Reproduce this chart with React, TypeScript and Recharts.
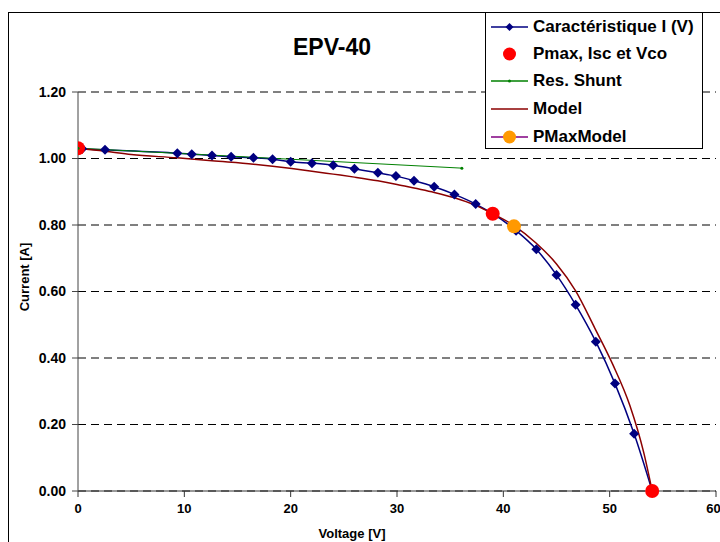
import React from "react";
import { ComposedChart, Line, XAxis, YAxis, CartesianGrid, Legend } from "recharts";

const FONT = '"Liberation Sans", Arial, sans-serif';

// measured I(V) curve
const measuredV = [0.4, 2.54, 9.34, 10.7, 12.6, 14.4, 16.5, 18.3, 20.0, 22.0, 24.0, 26.0, 28.2, 29.9, 31.6, 33.5, 35.4, 37.4, 39.0, 41.2, 43.1, 45.0, 46.8, 48.7, 50.5, 52.3, 54.0];
const measuredI = [1.029, 1.026, 1.016, 1.013, 1.009, 1.005, 1.002, 0.998, 0.99, 0.986, 0.98, 0.969, 0.957, 0.947, 0.933, 0.915, 0.892, 0.863, 0.834, 0.783, 0.727, 0.65, 0.56, 0.449, 0.323, 0.172, 0.0];

// model curve
const modelV = [0, 2.5, 5, 9.3, 12.6, 16.5, 18.3, 20.1, 22.0, 24.0, 26.0, 28.2, 30.0, 31.6, 33.5, 35.4, 37.4, 39.0, 41.0, 43.1, 45.0, 46.8, 48.6, 50.3, 51.9, 53.2, 54.0];
const modelI = [1.03, 1.022, 1.012, 1.002, 0.993, 0.983, 0.977, 0.97, 0.962, 0.953, 0.944, 0.933, 0.922, 0.911, 0.898, 0.882, 0.859, 0.834, 0.798, 0.745, 0.683, 0.602, 0.49, 0.38, 0.257, 0.116, 0.0];

const shuntV = [0, 36.1];
const shuntI = [1.031, 0.971];

const pmaxV = [0, 39.0, 54.0];
const pmaxI = [1.031, 0.834, 0];

const pmaxModelV = [41.0];
const pmaxModelI = [0.796];

const xTicks = [0, 10, 20, 30, 40, 50, 60];
const yTicks = [0, 0.2, 0.4, 0.6, 0.8, 1.0, 1.2];

const legendNames = ["Caractéristique I (V)", "Pmax, Isc et Vco", "Res. Shunt", "Model", "PMaxModel"];

const zip = (v: number[], i: number[]) => v.map((x, k) => ({ v: x, i: i[k] }));

const measured = zip(measuredV, measuredI);
const model = zip(modelV, modelI);
const shunt = zip(shuntV, shuntI);
const pmax = zip(pmaxV, pmaxI);
const pmaxModel = zip(pmaxModelV, pmaxModelI);

function Diamond(props: any) {
  const { cx, cy, index } = props;
  if (cx == null || cy == null) return null;
  return (
    <polygon
      key={`dia-${index}`}
      points={`${cx},${cy - 5} ${cx + 5},${cy} ${cx},${cy + 5} ${cx - 5},${cy}`}
      fill="#000080"
    />
  );
}

function SmallDot(props: any) {
  const { cx, cy, index } = props;
  if (cx == null || cy == null) return null;
  return <circle key={`sd-${index}`} cx={cx} cy={cy} r={1.5} fill="#008000" />;
}

const bigDot = (color: string) => (props: any) => {
  const { cx, cy, index } = props;
  if (cx == null || cy == null) return null;
  return <circle key={`bd-${color}-${index}`} cx={cx} cy={cy} r={7} fill={color} />;
};

function LegendMarker({ idx }: { idx: number }) {
  return (
    <svg width={44} height={20} style={{ position: "absolute", left: 4, top: -10 }}>
      {idx === 0 && (
        <>
          <line x1={1} y1={10} x2={38} y2={10} stroke="#000080" strokeWidth={1.5} />
          <polygon points="19.5,6 23.5,10 19.5,14 15.5,10" fill="#000080" />
        </>
      )}
      {idx === 1 && <circle cx={19.5} cy={10} r={6.5} fill="#FF0000" />}
      {idx === 2 && (
        <>
          <line x1={1} y1={10} x2={38} y2={10} stroke="#008000" strokeWidth={1.5} />
          <circle cx={19.5} cy={10} r={1.5} fill="#008000" />
        </>
      )}
      {idx === 3 && <line x1={1} y1={10} x2={38} y2={10} stroke="#8B0000" strokeWidth={1.5} />}
      {idx === 4 && (
        <>
          <line x1={1} y1={10} x2={38} y2={10} stroke="#800080" strokeWidth={1.5} />
          <circle cx={19.5} cy={10} r={6.5} fill="#FF9900" />
        </>
      )}
    </svg>
  );
}

const rowTops = [15, 42, 69, 97, 125];

function LegendBox() {
  return (
    <div
      style={{
        position: "relative",
        width: 218,
        height: 137,
        boxSizing: "border-box",
        border: "1px solid #000",
        background: "#fff",
        fontFamily: FONT,
      }}
    >
      {legendNames.map((name, idx) => (
        <div key={name} style={{ position: "absolute", left: 0, top: rowTops[idx] - 1, height: 0 }}>
          <LegendMarker idx={idx} />
          <span
            style={{
              position: "absolute",
              left: 47,
              top: -10,
              fontSize: 17,
              fontWeight: 700,
              lineHeight: "20px",
              whiteSpace: "nowrap",
              color: "#000",
            }}
          >
            {name}
          </span>
        </div>
      ))}
    </div>
  );
}

export default function App() {
  return (
    <div
      style={{
        position: "absolute",
        left: 0,
        top: 0,
        width: 720,
        height: 542,
        overflow: "hidden",
        background: "#fff",
        fontFamily: FONT,
      }}
    >
      <div
        style={{
          position: "absolute",
          left: 8,
          top: 12,
          width: 800,
          height: 600,
          border: "1px solid #000",
        }}
      />
      <div
        style={{
          position: "absolute",
          left: 0,
          top: 36,
          width: 664,
          textAlign: "center",
          fontSize: 23,
          fontWeight: 700,
          lineHeight: "23px",
        }}
      >
        EPV-40
      </div>
      <div style={{ position: "absolute", left: 0, top: 0 }}>
        <ComposedChart width={720} height={542} margin={{ top: 92, right: 4, bottom: 0, left: 0 }}>
          <CartesianGrid vertical={false} stroke="#000" strokeDasharray="8 5" />
          <XAxis
            type="number"
            dataKey="v"
            domain={[0, 60]}
            ticks={xTicks}
            height={51}
            tickSize={6}
            tickMargin={7}
            allowDataOverflow
            stroke="#333"
            tick={{ fontSize: 13, fontWeight: 700, fill: "#000", fontFamily: FONT }}
            label={{
              content: () => (
                <text x={352} y={538} textAnchor="middle" fontSize={13} fontWeight={700} fontFamily={FONT} fill="#000">
                  Voltage [V]
                </text>
              ),
            }}
          />
          <YAxis
            type="number"
            dataKey="i"
            domain={[0, 1.2]}
            ticks={yTicks}
            width={78}
            tickSize={6}
            tickMargin={6}
            stroke="#444"
            tickFormatter={(t: number) => t.toFixed(2)}
            tick={{ fontSize: 14, fontWeight: 700, fill: "#000", fontFamily: FONT }}
            label={{
              content: () => (
                <text
                  x={29}
                  y={277}
                  transform="rotate(-90 29 277)"
                  textAnchor="middle"
                  fontSize={13}
                  fontWeight={700}
                  fontFamily={FONT}
                  fill="#000"
                >
                  Current [A]
                </text>
              ),
            }}
          />
          <Legend
            verticalAlign="middle"
            align="center"
            layout="horizontal"
            wrapperStyle={{ position: "absolute", left: 485, top: 12, width: 218, height: 137 }}
            content={() => <LegendBox />}
          />
          <Line
            data={measured}
            dataKey="i"
            type="monotone"
            stroke="#000080"
            strokeWidth={1.5}
            dot={Diamond}
            activeDot={false}
            isAnimationActive={false}
          />
          <Line
            data={pmax}
            dataKey="i"
            stroke="none"
            dot={bigDot("#FF0000")}
            activeDot={false}
            isAnimationActive={false}
          />
          <Line
            data={shunt}
            dataKey="i"
            type="linear"
            stroke="#008000"
            strokeWidth={1}
            dot={SmallDot}
            activeDot={false}
            isAnimationActive={false}
          />
          <Line
            data={model}
            dataKey="i"
            type="monotone"
            stroke="#8B0000"
            strokeWidth={1.5}
            dot={false}
            activeDot={false}
            isAnimationActive={false}
          />
          <Line
            data={pmaxModel}
            dataKey="i"
            stroke="none"
            dot={bigDot("#FF9900")}
            activeDot={false}
            isAnimationActive={false}
          />
        </ComposedChart>
      </div>
    </div>
  );
}
